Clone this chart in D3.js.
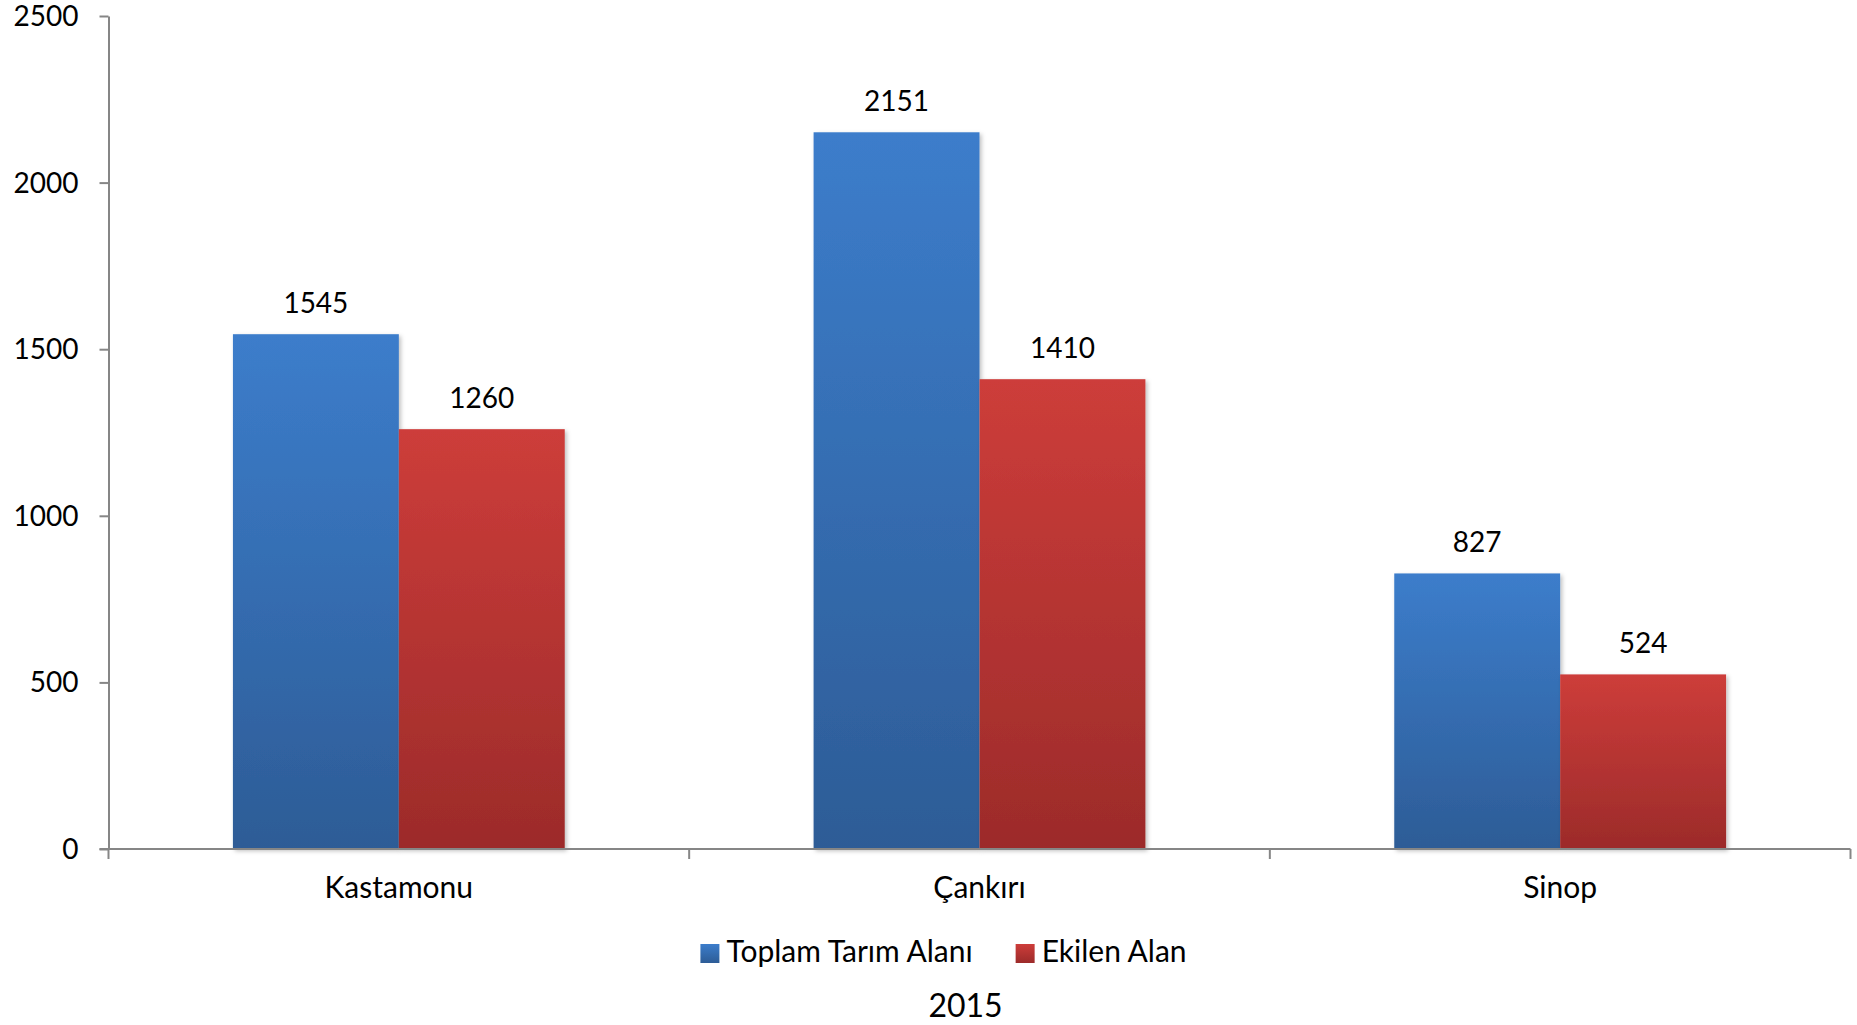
<!DOCTYPE html>
<html>
<head>
<meta charset="utf-8">
<script src="https://cdn.jsdelivr.net/npm/d3@7/dist/d3.min.js"></script>
<style>
  html, body { margin: 0; padding: 0; background: #ffffff; }
  svg { display: block; }
  text { font-family: Lato, "Open Sans", sans-serif; fill: #000; }
</style>
</head>
<body>
<svg id="chart" width="1857" height="1025"></svg>
<script>
const categories = ["Kastamonu", "Çankırı", "Sinop"];
const seriesNames = ["Toplam Tarım Alanı", "Ekilen Alan"];
const toplamTarimAlani = [1545, 2151, 827];
const ekilenAlan = [1260, 1410, 524];
const yTickValues = [0, 500, 1000, 1500, 2000, 2500];
const chartTitle = "2015";

(function () {
const seriesValues = [toplamTarimAlani, ekilenAlan];
const gradStops = [
  ["#3C7DCB", "#2D5C96"],
  ["#CD3D3A", "#9C2B2A"]
];

const svg = d3.select("#chart");
const pLeft = 108.5, pRight = 1850.5, pTop = 16, pBottom = 849;
const FS_NUM = 28;
const FS_TXT = 30;

const x = d3.scaleBand().domain(categories).range([pLeft, pRight]).padding(0);
const xs = d3.scaleBand().domain(seriesNames).range([0, x.bandwidth()])
  .paddingInner(0).paddingOuter(0.75);
const y = d3.scaleLinear().domain([0, 2500]).range([pBottom, pTop]);

const defs = svg.append("defs");
const f = defs.append("filter").attr("id", "shadow")
  .attr("x", "-10%").attr("y", "-10%").attr("width", "120%").attr("height", "120%");
f.append("feDropShadow").attr("dx", 2).attr("dy", 2).attr("stdDeviation", 2)
  .attr("flood-color", "#000").attr("flood-opacity", 0.25);

seriesNames.forEach((s, i) => {
  const g = defs.append("linearGradient").attr("id", "lg" + i)
    .attr("x1", 0).attr("y1", 0).attr("x2", 0).attr("y2", 1);
  g.append("stop").attr("offset", "0%").attr("stop-color", gradStops[i][0]);
  g.append("stop").attr("offset", "100%").attr("stop-color", gradStops[i][1]);
});

// Bars
seriesNames.forEach((s, si) => {
  const vals = seriesValues[si];
  svg.append("g").selectAll("rect").data(categories).join("rect")
    .attr("x", c => x(c) + xs(s))
    .attr("y", (c, ci) => y(vals[ci]))
    .attr("width", xs.bandwidth())
    .attr("height", (c, ci) => pBottom - y(vals[ci]))
    .attr("fill", "url(#lg" + si + ")")
    .attr("filter", "url(#shadow)");
  svg.append("g").selectAll("text").data(categories).join("text")
    .attr("x", c => x(c) + xs(s) + xs.bandwidth() / 2)
    .attr("y", (c, ci) => y(vals[ci]) - 21)
    .attr("text-anchor", "middle")
    .style("font-size", FS_NUM + "px")
    .text((c, ci) => vals[ci]);
});

// Y axis
const yAxis = d3.axisLeft(y).tickValues(yTickValues).tickFormat(d3.format("d"))
  .tickSize(9).tickSizeOuter(0).tickPadding(21);
const ya = svg.append("g").attr("transform", `translate(${pLeft},0)`).call(yAxis);
ya.select(".domain").attr("stroke", "#868686").attr("stroke-width", 2);
ya.selectAll(".tick line").attr("stroke", "#868686").attr("stroke-width", 2);
ya.selectAll(".tick text").style("font-size", FS_NUM + "px").style("font-family", "Lato, sans-serif")
  .attr("fill", "#000").attr("dy", "0.34em");

// X axis
const xAxis = d3.axisBottom(x).tickSize(0).tickSizeOuter(0).tickPadding(0);
const xa = svg.append("g").attr("transform", `translate(0,${pBottom})`).call(xAxis);
xa.select(".domain").attr("stroke", "#868686").attr("stroke-width", 2)
  .attr("d", `M${pLeft - 9},0H${pRight}`);
xa.selectAll(".tick text").style("font-size", FS_TXT + "px").style("font-family", "Lato, sans-serif")
  .attr("fill", "#000").attr("dy", null).attr("y", 49);
const boundaries = categories.map(c => x(c)).concat([x.range()[1]]);
xa.append("g").selectAll("line").data(boundaries).join("line")
  .attr("x1", d => d).attr("x2", d => d).attr("y1", 0).attr("y2", 10)
  .attr("stroke", "#868686").attr("stroke-width", 2);

// Legend
const legend = svg.append("g");
const items = legend.selectAll("g").data(seriesNames).join("g");
items.append("rect").attr("width", 19).attr("height", 19).attr("y", 944)
  .attr("fill", (d, i) => "url(#lg" + i + ")");
items.append("text").attr("x", 26).attr("y", 962).style("font-size", FS_TXT + "px").text(d => d);
let cx = 0;
const offs = [];
items.each(function () {
  offs.push(cx);
  const w = d3.select(this).select("text").node().getComputedTextLength();
  cx += 26 + w + 43;
});
const totalW = cx - 43;
const startX = 943.5 - totalW / 2;
items.attr("transform", (d, i) => `translate(${startX + offs[i]},0)`);

// Title
svg.append("text").attr("x", 965.5).attr("y", 1017).attr("text-anchor", "middle")
  .style("font-size", "32px").text(chartTitle);
})();
</script>
</body>
</html>
